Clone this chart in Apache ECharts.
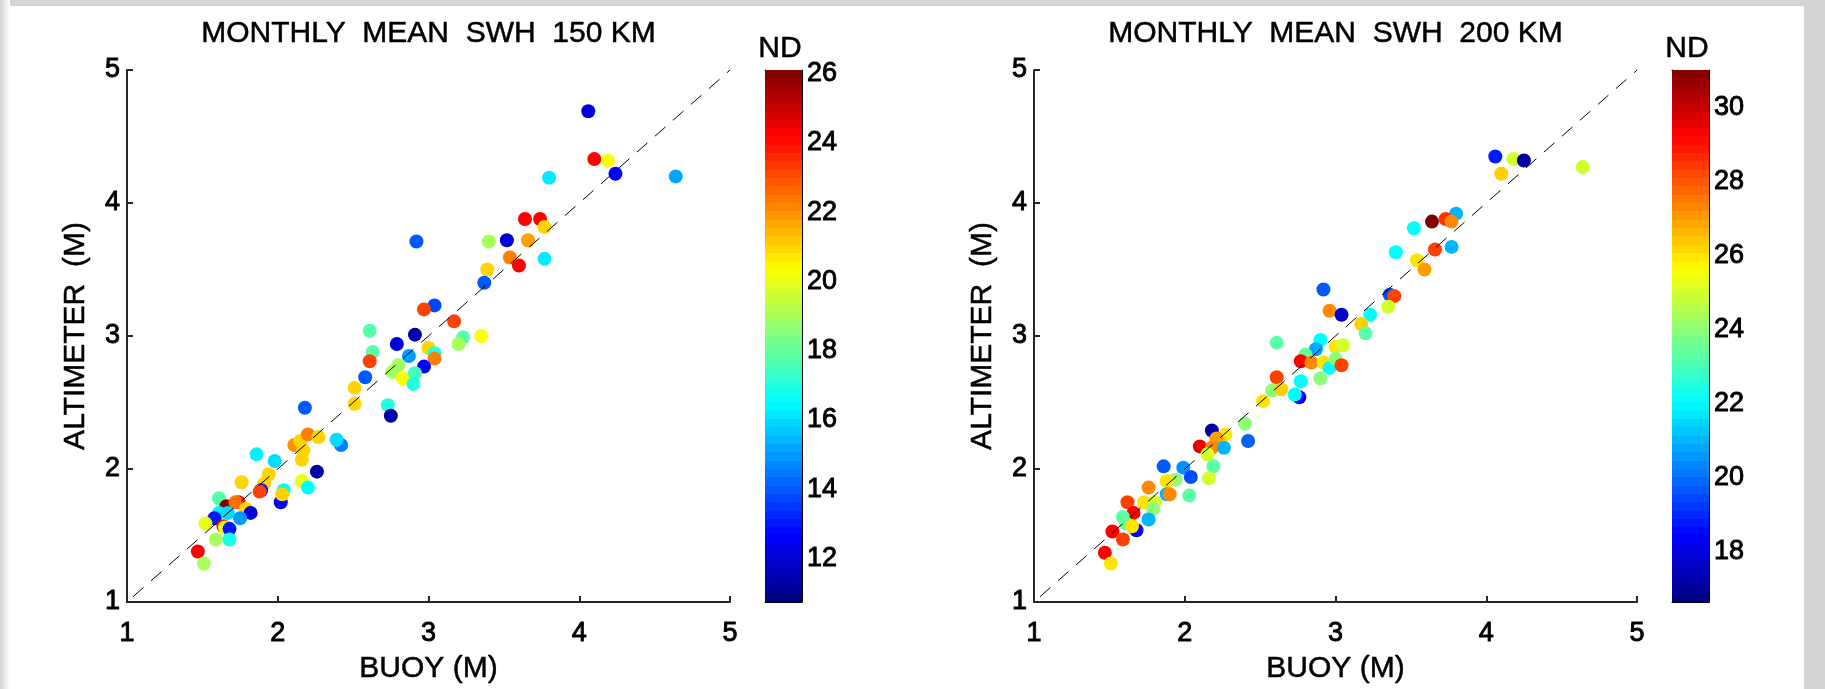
<!DOCTYPE html>
<html><head><meta charset="utf-8">
<script src="https://cdn.jsdelivr.net/npm/echarts@6/dist/echarts.min.js"></script>
<style>html,body{margin:0;padding:0;background:#fff;}#c{width:1825px;height:689px;}</style>
</head><body><div id="c"></div>
<script>
// ---- data: 150 km panel ----
const buoy150 = [4.06,4.10,4.19,4.24,3.80,4.64,3.64,3.74,3.77,3.40,3.52,3.66,3.54,3.60,3.77,3.39,3.37,3.17,3.23,3.20,3.35,3.04,2.97,2.92,2.61,2.91,2.79,3.00,3.04,3.04,2.87,2.97,2.63,2.61,2.58,2.80,2.76,2.83,2.91,2.90,2.51,2.51,2.73,2.75,2.18,2.42,2.39,2.11,2.15,2.20,2.27,2.17,2.16,2.26,2.16,2.20,1.86,1.98,1.94,1.91,1.89,1.88,1.76,2.04,2.02,2.03,1.61,1.66,1.74,1.72,1.79,1.82,1.75,1.61,1.67,1.58,1.52,1.64,1.65,1.68,1.59,1.68,1.47,1.51];
const alt150  = [4.69,4.33,4.32,4.22,4.19,4.20,3.88,3.88,3.82,3.71,3.72,3.72,3.59,3.53,3.58,3.50,3.40,3.11,2.99,2.94,3.00,3.23,3.20,3.71,3.04,3.01,2.94,2.91,2.87,2.83,2.85,2.77,2.88,2.81,2.69,2.78,2.73,2.68,2.72,2.64,2.61,2.49,2.48,2.40,2.46,2.18,2.22,2.18,2.21,2.26,2.24,2.14,2.07,1.98,1.91,1.86,2.11,2.06,1.96,1.89,1.84,1.83,1.90,1.84,1.75,1.81,1.78,1.72,1.75,1.75,1.70,1.67,1.63,1.67,1.67,1.63,1.59,1.57,1.56,1.55,1.47,1.47,1.38,1.29];
const nd150   = [12.0,24.2,20.3,12.7,16.2,15.2,24.2,24.2,21.0,19.0,12.0,21.8,22.3,24.2,16.2,21.0,14.0,23.2,17.8,19.0,20.3,13.7,23.2,14.0,17.8,11.2,12.0,21.0,17.0,22.3,15.0,12.7,17.8,23.2,14.0,19.0,19.0,20.3,17.5,17.0,21.0,21.0,17.0,11.2,14.0,14.5,16.0,22.0,21.0,22.3,21.0,21.0,21.0,11.2,20.0,16.5,16.3,16.0,21.0,21.0,13.0,23.2,21.0,16.5,12.7,21.0,17.8,26.0,24.0,22.5,21.0,12.0,15.0,16.3,16.0,13.0,20.0,24.0,20.0,13.0,19.0,16.8,24.2,19.0];
// ---- data: 200 km panel ----
const buoy200 = [4.06,4.18,4.25,4.10,4.64,3.80,3.64,3.73,3.77,3.52,3.40,3.54,3.66,3.77,3.59,3.36,3.39,3.35,2.92,2.96,3.04,3.23,3.17,3.20,2.61,2.90,2.87,2.80,2.77,2.84,2.92,2.96,3.00,3.05,3.00,3.04,2.90,2.61,2.58,2.64,2.77,2.76,2.73,2.52,2.40,2.42,2.18,2.27,2.21,2.10,2.18,2.26,2.15,2.19,2.16,1.86,1.99,2.04,1.94,1.88,1.76,1.88,1.90,2.03,1.62,1.73,1.80,1.79,1.66,1.59,1.76,1.61,1.68,1.65,1.52,1.59,1.47,1.51];
const alt200  = [4.35,4.33,4.32,4.22,4.27,3.92,3.86,3.88,3.86,3.81,3.63,3.57,3.65,3.67,3.50,3.31,3.30,3.22,3.35,3.19,3.16,3.16,3.09,3.02,2.95,2.97,2.90,2.86,2.81,2.80,2.80,2.76,2.92,2.93,2.83,2.78,2.68,2.69,2.59,2.60,2.66,2.54,2.56,2.51,2.34,2.21,2.29,2.26,2.23,2.17,2.16,2.16,2.11,2.02,1.93,2.02,2.01,1.94,1.92,1.91,1.86,1.81,1.81,1.80,1.75,1.75,1.75,1.70,1.67,1.64,1.62,1.59,1.54,1.57,1.53,1.47,1.37,1.29];
const nd200   = [18.8,25.0,17.0,26.3,25.0,21.0,31.0,28.5,27.3,22.0,22.0,26.0,28.3,21.0,27.0,19.5,28.3,25.0,19.7,27.3,17.5,22.0,26.3,23.3,23.3,22.0,20.8,23.5,29.2,27.3,26.0,22.0,26.0,25.0,24.0,28.3,24.0,28.3,24.0,26.3,22.0,18.5,22.0,26.0,24.0,19.8,17.0,26.0,27.0,29.5,27.3,21.0,25.0,23.3,25.0,19.7,20.5,19.5,24.0,26.0,27.3,21.0,27.3,23.3,28.3,26.0,25.0,24.0,29.2,23.3,21.0,23.5,18.5,26.0,29.2,28.3,29.2,26.0];
// ---- axes / colorbars ----
const axisTicks = [1, 2, 3, 4, 5];
const ndTicks150 = [12, 14, 16, 18, 20, 22, 24, 26];
const ndTicks200 = [18, 20, 22, 24, 26, 28, 30];
const ndRange150 = [10.75, 26.1];
const ndRange200 = [16.65, 31.0];
const oneToOne = [[1.04, 1.04], [5, 5]];
const titles = ['MONTHLY  MEAN  SWH  150 KM', 'MONTHLY  MEAN  SWH  200 KM'];
const xName = 'BUOY (M)';
const yName = 'ALTIMETER  (M)';
const cbName = 'ND';
const jet = ['#00008f','#0000ff','#0080ff','#00ffff','#80ff80','#ffff00','#ff8000','#ff0000','#800000'];

const FONT = 'Liberation Sans, Arial, Helvetica, sans-serif';
const zip = (a, b, c) => a.map((v, i) => [v, b[i], c[i]]);

const G = [
  {left: 127, top: 70, width: 603, height: 532},
  {left: 1034, top: 70, width: 603, height: 532},
  {left: 765, top: 70, width: 37, height: 532},
  {left: 1672, top: 70, width: 37, height: 532}
];

// jet colormap with 64 discrete levels (colorbar styling, like MATLAB)
function jetRGB(t) {
  const c = v => Math.round(255 * Math.max(0, Math.min(1, v)));
  const r = 1.5 - Math.abs(4 * t - 3), g = 1.5 - Math.abs(4 * t - 2), b = 1.5 - Math.abs(4 * t - 1);
  return 'rgb(' + c(r) + ',' + c(g) + ',' + c(b) + ')';
}
const jetStops = [];
for (let k = 0; k < 64; k++) {
  const col = jetRGB((63 - k + 0.5) / 64);
  jetStops.push({offset: k / 64, color: col}, {offset: (k + 1) / 64, color: col});
}

const labelStroke = {textBorderColor: '#000', textBorderWidth: 0.9};
const nameStroke = {textBorderColor: '#000', textBorderWidth: 0.5};

function mainX(gi) {
  return {gridIndex: gi, type: 'value', min: axisTicks[0], max: axisTicks[axisTicks.length - 1], interval: 1,
    name: xName, nameLocation: 'middle', nameGap: 52, nameMoveOverlap: false,
    nameTextStyle: Object.assign({fontSize: 30, color: '#000', fontFamily: FONT}, nameStroke),
    axisLine: {onZero: false, lineStyle: {color: '#262626', width: 2}},
    axisTick: {inside: true, length: 6, lineStyle: {color: '#262626', width: 2}},
    axisLabel: Object.assign({fontSize: 27, color: '#000', margin: 18, fontFamily: FONT}, labelStroke),
    splitLine: {show: false}};
}
function mainY(gi) {
  return {gridIndex: gi, type: 'value', min: axisTicks[0], max: axisTicks[axisTicks.length - 1], interval: 1,
    name: yName, nameLocation: 'middle', nameGap: 36, nameMoveOverlap: false,
    nameTextStyle: Object.assign({fontSize: 30, color: '#000', fontFamily: FONT}, nameStroke),
    axisLine: {onZero: false, lineStyle: {color: '#262626', width: 2}},
    axisTick: {inside: true, length: 6, lineStyle: {color: '#262626', width: 2}},
    axisLabel: Object.assign({fontSize: 27, color: '#000', margin: 7, fontFamily: FONT}, labelStroke),
    splitLine: {show: false}};
}
function cbX(gi, pos) {
  return {gridIndex: gi, type: 'value', min: 0, max: 1, position: pos,
    axisLine: {onZero: false, lineStyle: {color: '#000', width: 1}},
    axisTick: {show: false}, axisLabel: {show: false}, splitLine: {show: false}};
}
function cbY(gi, range, ticks, pos, labels) {
  return {gridIndex: gi, type: 'value', min: range[0], max: range[1], position: pos,
    axisLine: {onZero: false, show: true, lineStyle: {color: '#000', width: 1}},
    axisTick: {show: true, inside: true, length: 5, customValues: ticks, lineStyle: {color: '#000', width: 1}},
    axisLabel: Object.assign({show: labels, customValues: ticks, fontSize: 27, color: '#000', margin: 5, fontFamily: FONT}, labelStroke),
    splitLine: {show: false}};
}
function cbRender(params, api) {
  const p0 = api.coord([0, api.value(1)]);
  const p1 = api.coord([1, api.value(0)]);
  return {type: 'rect', shape: {x: p0[0], y: p0[1], width: p1[0] - p0[0], height: p1[1] - p0[1]},
    style: {fill: new echarts.graphic.LinearGradient(0, 0, 0, 1, jetStops)}};
}
function scatter(xi, data) {
  return {type: 'scatter', xAxisIndex: xi, yAxisIndex: xi, data: data, symbolSize: 14,
    itemStyle: {opacity: 1}, z: 3, animation: false};
}
function diag(xi) {
  return {type: 'line', xAxisIndex: xi, yAxisIndex: xi, data: oneToOne, symbol: 'none',
    lineStyle: {color: '#000', width: 1, type: [14, 10]}, z: 4, animation: false, silent: true};
}
function txt(x, y, s, stroke) {
  return {type: 'text', x: x, y: y, style: {text: s, font: '30px ' + FONT, fill: '#000', align: 'center', verticalAlign: 'middle',
    stroke: '#000', lineWidth: stroke}};
}

const chart = echarts.init(document.getElementById('c'), null, {renderer: 'canvas'});
chart.setOption({
  backgroundColor: '#ffffff',
  animation: false,
  grid: G.map(g => Object.assign({outerBoundsMode: 'none', containLabel: false}, g)),
  xAxis: [mainX(0), mainX(1), cbX(2, 'bottom'), cbX(2, 'top'), cbX(3, 'bottom'), cbX(3, 'top')],
  yAxis: [mainY(0), mainY(1),
    cbY(2, ndRange150, ndTicks150, 'right', true), cbY(2, ndRange150, ndTicks150, 'left', false),
    cbY(3, ndRange200, ndTicks200, 'right', true), cbY(3, ndRange200, ndTicks200, 'left', false)],
  visualMap: [
    {type: 'continuous', show: false, seriesIndex: 0, dimension: 2, min: ndRange150[0], max: ndRange150[1], inRange: {color: jet}},
    {type: 'continuous', show: false, seriesIndex: 1, dimension: 2, min: ndRange200[0], max: ndRange200[1], inRange: {color: jet}}
  ],
  series: [
    scatter(0, zip(buoy150, alt150, nd150)),
    scatter(1, zip(buoy200, alt200, nd200)),
    diag(0), diag(1),
    {type: 'custom', xAxisIndex: 2, yAxisIndex: 2, data: [[ndRange150[0], ndRange150[1]]], renderItem: cbRender, z: 1, silent: true},
    {type: 'custom', xAxisIndex: 4, yAxisIndex: 4, data: [[ndRange200[0], ndRange200[1]]], renderItem: cbRender, z: 1, silent: true}
  ],
  graphic: [
    {type: 'rect', shape: {x: 0, y: 0, width: 1825, height: 6}, style: {fill: '#d4d4d4'}, silent: true},
    {type: 'rect', shape: {x: 0, y: 0, width: 10, height: 689},
      style: {fill: new echarts.graphic.LinearGradient(0, 0, 1, 0, [{offset: 0, color: '#d4d4d4'}, {offset: 1, color: '#ffffff'}])}, silent: true},
    {type: 'rect', shape: {x: 1804, y: 0, width: 21, height: 689}, style: {fill: '#d4d4d4'}, silent: true},
    txt(428.5, 33.5, titles[0], 0.5),
    txt(1335.5, 33.5, titles[1], 0.5),
    txt(780, 49, cbName, 0.5),
    txt(1687, 49, cbName, 0.5)
  ]
});
</script>
</body></html>
